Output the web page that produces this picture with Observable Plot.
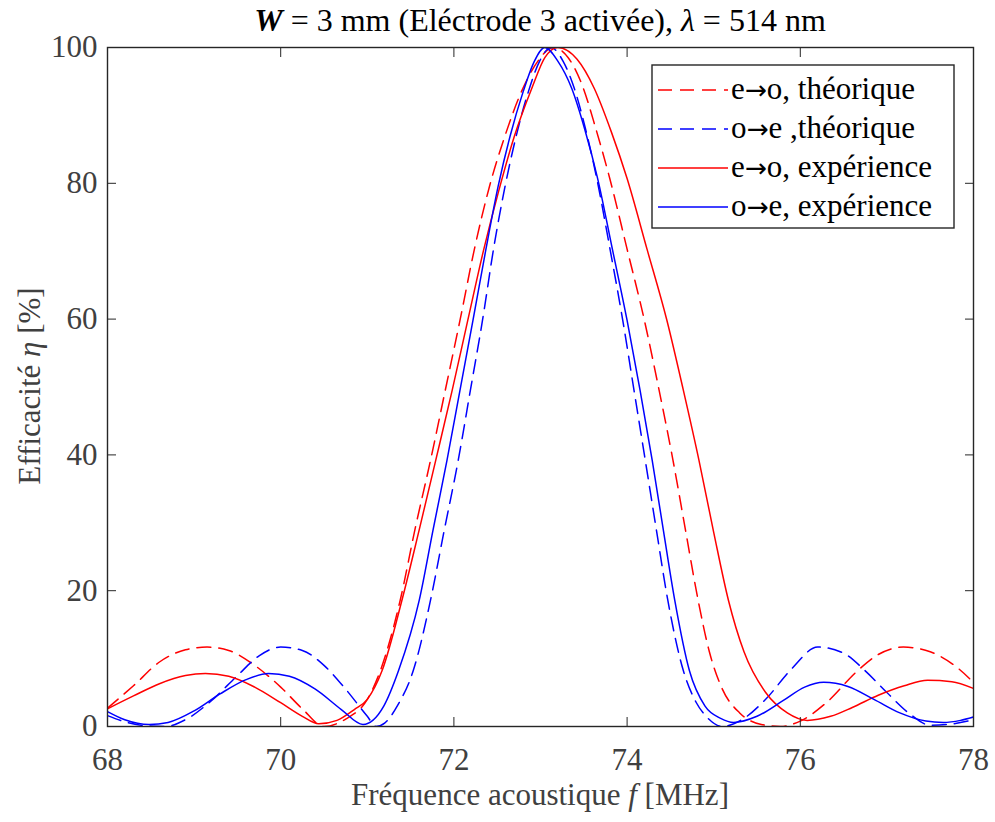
<!DOCTYPE html>
<html>
<head>
<meta charset="utf-8">
<script src="https://cdn.jsdelivr.net/npm/d3@7"></script>
<script src="https://cdn.jsdelivr.net/npm/@observablehq/plot@0.6"></script>
<style>
  html, body { margin: 0; padding: 0; background: #fff; }
  #chart { width: 995px; height: 822px; position: relative; }
</style>
</head>
<body>
<div id="chart"></div>
<script>
// ---- Data ----
const xTicks = [68, 70, 72, 74, 76, 78];
const yTicks = [0, 20, 40, 60, 80, 100];

const seriesLeft = ["e", "o", "e", "o"];
const seriesRight = ["o, théorique", "e ,théorique", "o, expérience", "e, expérience"];
const seriesColors = ["#ff0000", "#0000ff", "#ff0000", "#0000ff"];
const seriesDashed = [true, true, false, false];

// e->o theoretical (red dashed)
const fEoTheo = [68.0, 68.3, 68.6, 68.9, 69.15, 69.4, 69.7, 70.0, 70.25, 70.5, 70.75, 71.0, 71.15, 71.38, 71.55, 71.73, 71.9, 72.07, 72.24, 72.41, 72.59, 72.78, 72.97, 73.15, 73.32, 73.48, 73.64, 73.8, 74.0, 74.2, 74.37, 74.53, 74.68, 74.82, 74.95, 75.1, 75.3, 75.55, 75.77, 76.0, 76.3, 76.66, 76.9, 77.19, 77.5, 77.8, 78.0];
const eEoTheo = [2.7, 6.0, 9.5, 11.3, 11.7, 11.2, 9.0, 5.8, 2.6, 0.0, 1.1, 4.0, 8.2, 18.6, 29.0, 39.2, 49.5, 59.8, 70.5, 79.5, 87.0, 93.5, 98.0, 100, 98.5, 94.5, 88.0, 80.7, 70.3, 59.8, 49.5, 39.2, 28.5, 18.6, 11.0, 5.5, 2.0, 0.3, 0.0, 0.8, 3.5, 8.2, 10.6, 11.7, 11.0, 8.8, 6.5];

// o->e theoretical (blue dashed)
const fOeTheo = [68.0, 68.2, 68.45, 68.67, 68.9, 69.2, 69.5, 69.75, 70.0, 70.25, 70.5, 70.75, 71.0, 71.1, 71.2, 71.35, 71.53, 71.73, 71.89, 72.05, 72.19, 72.33, 72.46, 72.59, 72.72, 72.86, 72.99, 73.12, 73.26, 73.39, 73.52, 73.65, 73.8, 73.95, 74.08, 74.21, 74.34, 74.47, 74.65, 74.8, 74.92, 75.1, 75.35, 75.6, 75.9, 76.2, 76.5, 76.75, 77.0, 77.25, 77.5, 77.7, 78.0];
const eOeTheo = [1.6, 0.7, 0.1, 0.0, 1.0, 3.8, 7.5, 10.4, 11.7, 11.2, 9.0, 5.5, 1.5, 0.0, 0.5, 3.1, 8.2, 18.6, 29.0, 39.2, 49.5, 59.8, 70.5, 79.5, 87.0, 93.5, 98.0, 100, 98.0, 94.0, 88.0, 80.7, 70.5, 59.8, 49.5, 39.2, 28.8, 18.6, 8.2, 3.5, 1.4, 0.0, 1.2, 4.0, 8.5, 11.7, 10.8, 8.2, 5.0, 2.0, 0.2, 0.3, 1.0];

// e->o experimental (red solid)
const fEoExp = [68.0, 68.3, 68.6, 68.9, 69.13, 69.4, 69.7, 70.0, 70.25, 70.44, 70.65, 70.85, 71.0, 71.17, 71.4, 71.6, 71.79, 71.98, 72.16, 72.34, 72.52, 72.7, 72.9, 73.05, 73.2, 73.42, 73.62, 73.82, 74.0, 74.23, 74.46, 74.65, 74.83, 75.0, 75.17, 75.35, 75.6, 75.85, 76.08, 76.35, 76.6, 76.9, 77.2, 77.47, 77.75, 78.0];
const eEoExp = [2.6, 4.5, 6.3, 7.5, 7.8, 7.4, 5.8, 3.5, 1.5, 0.4, 0.9, 2.5, 4.0, 8.2, 18.6, 29.0, 39.2, 49.5, 59.8, 70.0, 79.0, 87.0, 94.0, 98.5, 100, 98.3, 94.0, 87.5, 80.7, 70.3, 59.8, 49.5, 39.2, 28.6, 18.6, 11.0, 5.0, 2.0, 0.9, 1.5, 2.8, 4.6, 6.0, 6.8, 6.6, 5.6];

// o->e experimental (blue solid)
const fOeExp = [68.0, 68.2, 68.48, 68.7, 69.0, 69.3, 69.6, 69.86, 70.1, 70.4, 70.7, 70.95, 71.19, 71.36, 71.6, 71.76, 71.92, 72.07, 72.22, 72.37, 72.51, 72.65, 72.8, 72.93, 73.05, 73.2, 73.36, 73.51, 73.66, 73.83, 74.0, 74.15, 74.29, 74.42, 74.55, 74.72, 74.9, 75.08, 75.23, 75.5, 75.8, 76.05, 76.27, 76.55, 76.85, 77.15, 77.45, 77.65, 77.85, 78.0];
const eOeExp = [2.2, 1.0, 0.3, 0.6, 2.3, 4.8, 6.9, 7.8, 7.4, 5.5, 2.5, 0.3, 3.0, 8.2, 18.6, 29.0, 39.2, 49.5, 59.8, 70.3, 79.5, 87.0, 93.5, 98.0, 100, 98.0, 94.0, 88.0, 80.7, 70.3, 59.8, 49.5, 39.2, 28.8, 18.6, 8.2, 3.0, 1.2, 0.6, 1.5, 3.8, 5.8, 6.5, 5.9, 4.0, 2.0, 0.8, 0.6, 0.9, 1.4];

const seriesF = [fEoTheo, fOeTheo, fEoExp, fOeExp];
const seriesE = [eEoTheo, eOeTheo, eEoExp, eOeExp];

// ---- Build table ----
const rows = [];
seriesF.forEach((fs, i) => fs.forEach((f, j) => rows.push({f, eta: seriesE[i][j], s: i})));

const FONT = "'Liberation Serif', 'DejaVu Serif', serif";
const ARROWFONT = "'DejaVu Sans', sans-serif";
const AXIS = "#262626";
const FS = 31;
const DASH = "14,8";

const lineMarks = [0, 1, 2, 3].map(i => Plot.line(rows.filter(r => r.s === i), {
  x: "f", y: "eta", stroke: seriesColors[i], strokeWidth: 1.5,
  strokeDasharray: seriesDashed[i] ? DASH : null,
  curve: "monotone-x", clip: true
}));

const chart = Plot.plot({
  width: 995, height: 822,
  marginTop: 47, marginBottom: 96, marginLeft: 107, marginRight: 22,
  x: {domain: [68, 78]},
  y: {domain: [0, 100]},
  style: {fontFamily: FONT, fontSize: FS + "px", color: "#404040", background: "white"},
  marks: [
    ...lineMarks,
    Plot.frame({stroke: AXIS, strokeWidth: 1.4}),
    Plot.axisX({anchor: "bottom", ticks: xTicks, tickSize: -9, tickPadding: 30, label: null, stroke: AXIS, fill: "#404040"}),
    Plot.axisX({anchor: "top", ticks: xTicks, tickSize: -9, tickFormat: () => "", label: null, stroke: AXIS}),
    Plot.axisY({anchor: "left", ticks: yTicks, tickSize: -9, tickPadding: 19, label: null, stroke: AXIS, fill: "#404040"}),
    Plot.axisY({anchor: "right", ticks: yTicks, tickSize: -9, tickFormat: () => "", label: null, stroke: AXIS})
  ]
});
document.getElementById("chart").appendChild(chart);

// ---- Title, axis labels and legend as real SVG text ----
const svg = d3.select(chart);
const cx = 540;

const title = svg.append("text").attr("x", cx).attr("y", 31).attr("text-anchor", "middle")
  .attr("font-family", FONT).attr("font-size", FS + 1).attr("fill", "#000");
title.append("tspan").attr("font-weight", "bold").attr("font-style", "italic").text("W");
title.append("tspan").text(" = 3 mm (Eléctrode 3 activée), ");
title.append("tspan").attr("font-style", "italic").text("λ");
title.append("tspan").text(" = 514 nm");

const xl = svg.append("text").attr("x", cx).attr("y", 805).attr("text-anchor", "middle")
  .attr("font-family", FONT).attr("font-size", FS).attr("fill", "#404040");
xl.append("tspan").text("Fréquence acoustique ");
xl.append("tspan").attr("font-style", "italic").text("f");
xl.append("tspan").text(" [MHz]");

const yl = svg.append("text").attr("transform", "translate(40,386) rotate(-90)").attr("text-anchor", "middle")
  .attr("font-family", FONT).attr("font-size", FS).attr("fill", "#404040");
yl.append("tspan").text("Efficacité ");
yl.append("tspan").attr("font-style", "italic").text("η");
yl.append("tspan").text(" [%]");

// legend
const lg = svg.append("g");
lg.append("rect").attr("x", 652).attr("y", 65).attr("width", 302).attr("height", 163)
  .attr("fill", "white").attr("stroke", AXIS).attr("stroke-width", 1.4);
seriesLeft.forEach((left, i) => {
  const yy = 90 + i * 39;
  lg.append("line").attr("x1", 658).attr("x2", 728).attr("y1", yy).attr("y2", yy)
    .attr("stroke", seriesColors[i]).attr("stroke-width", 1.5)
    .attr("stroke-dasharray", seriesDashed[i] ? DASH : null);
  const t = lg.append("text").attr("x", 731).attr("y", yy + 9).attr("text-anchor", "start")
    .attr("font-family", FONT).attr("font-size", FS).attr("fill", "#000");
  t.append("tspan").text(left);
  t.append("tspan").attr("font-family", ARROWFONT).attr("font-size", FS * 0.85).text("\u2192");
  t.append("tspan").text(seriesRight[i]);
});
</script>
</body>
</html>
